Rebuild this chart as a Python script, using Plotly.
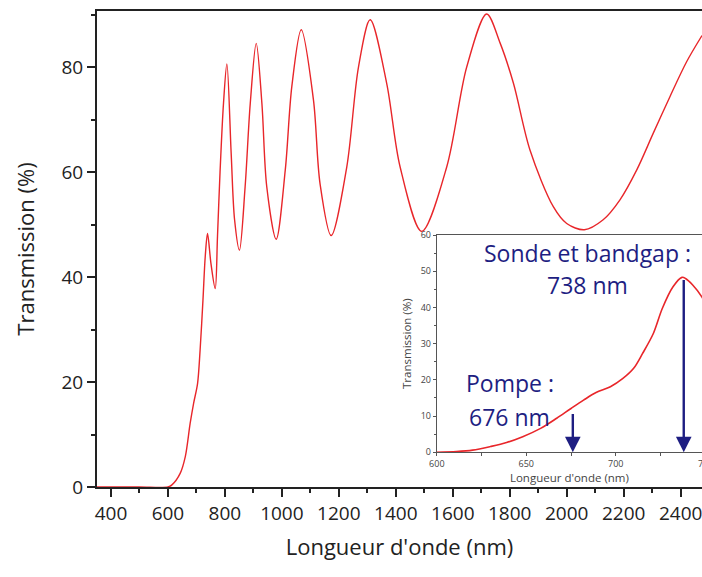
import plotly.graph_objects as go

# ---- data ----
main_wavelength = [351, 500, 600, 614, 643, 661, 678, 690, 704, 713, 723, 731, 739, 751, 766, 774,
                   783, 795, 807, 822, 834, 851, 871, 889, 910, 930, 947, 980, 1012, 1035, 1068,
                   1111, 1134, 1173, 1228, 1269, 1310, 1368, 1415, 1491, 1579, 1649, 1719, 1766, 1813,
                   1871, 1953, 2000, 2062, 2128, 2187, 2246, 2304, 2362, 2421, 2475]
main_transmission = [0, 0, 0, 0.4, 2.6, 5.8, 12.1, 15.9, 19.7, 26.1, 35.6, 43.9, 48.3, 42.6, 37.8, 47.7,
                     60, 73, 80.6, 63.6, 50.9, 45.1, 57.2, 73, 84.5, 73, 57.2, 47.2, 60.4, 76.3, 87.1,
                     73.7, 57.8, 47.9, 61, 80, 89, 76.9, 61, 48.7, 61, 80, 90.1, 84.6, 76.9,
                     64.2, 53.4, 50.2, 49, 50.9, 54.7, 60.4, 67.4, 74.3, 81, 86]

inset_wavelength = [600, 611, 620, 630, 639, 648, 658, 667, 675, 682, 689, 697, 704, 710, 715,
                    721, 726, 732, 737, 739, 743, 748, 750]
inset_transmission = [0, 0.2, 0.6, 1.6, 2.7, 4.3, 6.6, 9.4, 12.1, 14.4, 16.5, 18.1, 20.4, 23.2, 27.3,
                      32.8, 39.7, 45.7, 48.3, 48, 46.2, 43, 41]

main_xticks = [400, 600, 800, 1000, 1200, 1400, 1600, 1800, 2000, 2200, 2400]
main_yticks = [0, 20, 40, 60, 80]
inset_xticks = [600, 650, 700]
inset_yticks = [0, 10, 20, 30, 40, 50, 60]

pump_nm, pump_T = 676, 11
probe_nm, probe_T = 738, 48

navy = "#1e1e82"
red = "#e8262a"
axis_col = "#222222"
inset_col = "#555555"

fig = go.Figure()
fig.add_trace(go.Scatter(x=main_wavelength, y=main_transmission, mode="lines",
                         line=dict(color=red, width=1.4, shape="spline", smoothing=0.9),
                         xaxis="x", yaxis="y", showlegend=False, hoverinfo="skip"))
fig.add_trace(go.Scatter(x=inset_wavelength, y=inset_transmission, mode="lines",
                         line=dict(color=red, width=1.6, shape="spline", smoothing=0.9),
                         xaxis="x2", yaxis="y2", showlegend=False, hoverinfo="skip"))

tickfont = dict(family="Open Sans", size=19, color=axis_col)
fig.update_layout(
    width=702, height=577,
    margin=dict(l=97, r=0, t=11, b=90),
    paper_bgcolor="white", plot_bgcolor="white",
    font=dict(family="Open Sans"),
    xaxis=dict(range=[351, 2475], domain=[0, 1], tickvals=main_xticks,
               showline=True, linewidth=2, linecolor=axis_col, mirror=True,
               ticks="outside", ticklen=8, tickwidth=2, tickcolor=axis_col,
               minor=dict(dtick=100, tick0=400, ticks="outside", ticklen=4, tickwidth=2, tickcolor=axis_col),
               showgrid=False, zeroline=False, tickfont=tickfont, ticklabeloverflow="allow",
               title=dict(text="Longueur d'onde (nm)", font=dict(family="Open Sans", size=22, color=axis_col),
                          standoff=15)),
    yaxis=dict(range=[0, 90.67], domain=[0, 1], tickvals=main_yticks,
               showline=True, linewidth=2, linecolor=axis_col,
               ticks="outside", ticklen=8, tickwidth=2, tickcolor=axis_col,
               minor=dict(dtick=10, tick0=0, ticks="outside", ticklen=4, tickwidth=2, tickcolor=axis_col),
               showgrid=False, zeroline=False, tickfont=tickfont,
               title=dict(text="Transmission (%)", font=dict(family="Open Sans", size=22, color=axis_col),
                          standoff=21)),
    xaxis2=dict(range=[600, 748.2], domain=[0.5617, 1], anchor="y2", tickvals=inset_xticks,
                showline=True, linewidth=1.2, linecolor=inset_col, mirror=True,
                ticks="outside", ticklen=3, tickwidth=1, tickcolor=inset_col,
                minor=dict(dtick=25, tick0=600, ticks="outside", ticklen=3, tickwidth=1, tickcolor=inset_col),
                showgrid=False, zeroline=False,
                tickfont=dict(family="Open Sans", size=9, color="#444"),
                title=dict(text="Longueur d'onde (nm)", font=dict(family="Open Sans", size=11.5, color="#444"),
                           standoff=2)),
    yaxis2=dict(range=[0, 60], domain=[0.0729, 0.5294], anchor="x2", tickvals=inset_yticks,
                showline=True, linewidth=1.2, linecolor=inset_col,
                ticks="outside", ticklen=3, tickwidth=1, tickcolor=inset_col,
                minor=dict(dtick=5, tick0=0, ticks="outside", ticklen=2, tickwidth=1, tickcolor=inset_col),
                showgrid=False, zeroline=False,
                tickfont=dict(family="Open Sans", size=9, color="#444"),
                title=dict(text="Transmission (%)", font=dict(family="Open Sans", size=11.5, color="#444"),
                           standoff=6)),
)

# white background for inset
fig.add_shape(type="rect", xref="x2 domain", yref="y2 domain", x0=0, x1=1, y0=0, y1=1,
              fillcolor="white", line=dict(width=0), layer="below")

ann_font = dict(family="Open Sans", size=23, color=navy)
fig.add_annotation(x=684.2, y=54.9, xref="x2", yref="y2", text="Sonde et bandgap :",
                   showarrow=False, font=ann_font, xanchor="center", yanchor="middle")
fig.add_annotation(x=684.2, y=46.3, xref="x2", yref="y2", text=f"{probe_nm} nm",
                   showarrow=False, font=ann_font, xanchor="center", yanchor="middle")
fig.add_annotation(x=615.3, y=19.1, xref="x2", yref="y2", text="Pompe :",
                   showarrow=False, font=ann_font, xanchor="left", yanchor="middle")
fig.add_annotation(x=616.9, y=9.8, xref="x2", yref="y2", text=f"{pump_nm} nm",
                   showarrow=False, font=ann_font, xanchor="left", yanchor="middle")

# arrows
for nm, T in [(pump_nm, pump_T), (probe_nm, probe_T)]:
    fig.add_annotation(x=nm, y=0, xref="x2", yref="y2", ax=nm, ay=T, axref="x2", ayref="y2",
                       text="", showarrow=True, arrowhead=2, arrowsize=1.3, arrowwidth=2.4,
                       arrowcolor=navy, standoff=0)

# clipped "750" tick label at the right edge of the inset
fig.add_annotation(x=1.0058, y=0.0498, xref="paper", yref="paper", text="750", showarrow=False,
                   font=dict(family="Open Sans", size=9, color="#444"), xanchor="center", yanchor="middle")

fig.write_html("out.html", config={"displayModeBar": False},
               post_script="document.body.style.margin='0';document.body.style.overflow='hidden';")
